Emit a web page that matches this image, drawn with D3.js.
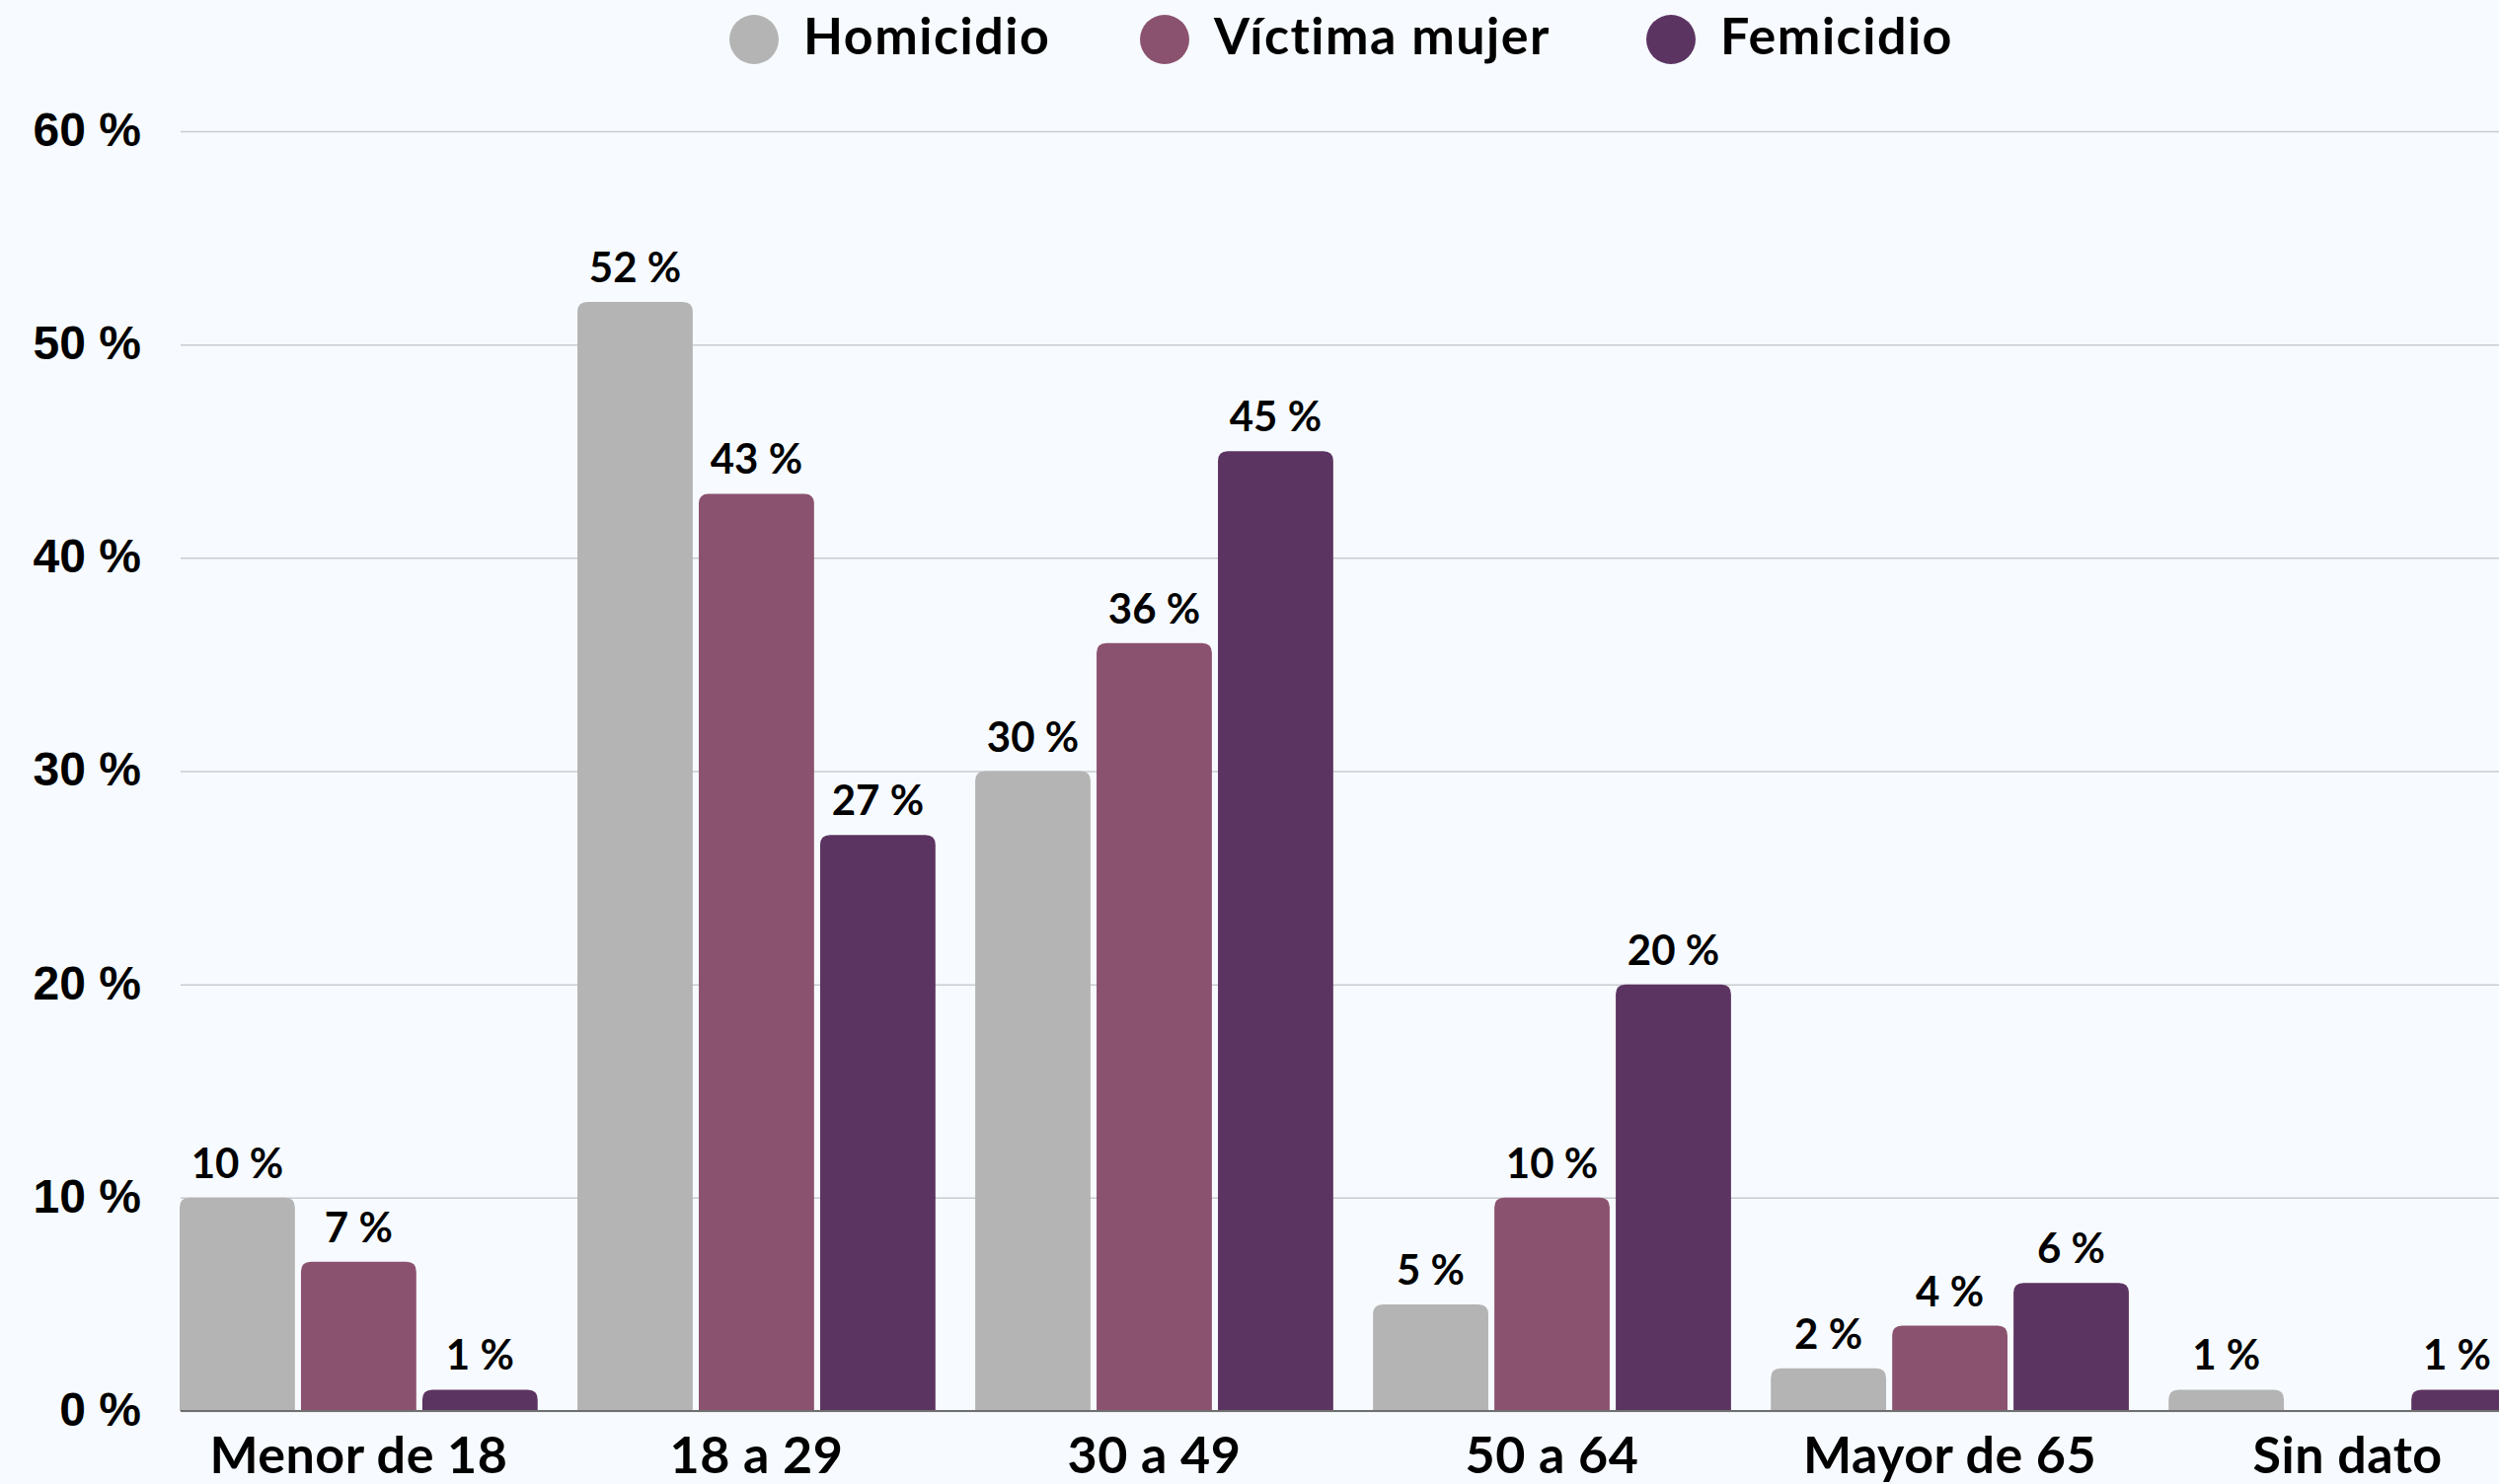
<!DOCTYPE html>
<html>
<head>
<meta charset="utf-8">
<script src="https://cdn.jsdelivr.net/npm/d3@7"></script>
<style>
  html, body { margin: 0; padding: 0; background: #f7fbff; overflow: hidden; }
  svg { display: block; font-family: Lato, "Open Sans", sans-serif; }
</style>
</head>
<body>
<svg id="chart" width="2532" height="1504"></svg>
<script>
// chart data
var categories = ["Menor de 18", "18 a 29", "30 a 49", "50 a 64", "Mayor de 65", "Sin dato"];
var seriesNames = ["Homicidio", "Víctima mujer", "Femicidio"];
var homicidio = [10, 52, 30, 5, 2, 1];
var victimaMujer = [7, 43, 36, 10, 4, 0];
var femicidio = [1, 27, 45, 20, 6, 1];
var yTicks = [0, 10, 20, 30, 40, 50, 60];
var colors = ["#b4b4b4", "#8b526f", "#5c3462"];

var seriesValues = [homicidio, victimaMujer, femicidio];

var svg = d3.select("#chart");
var width = 2532, height = 1504;

var y = d3.scaleLinear()
    .domain([0, 60])
    .range([1430, 133]);

// the chart runs past the right edge, like the original image
var x0 = d3.scaleBand()
    .domain(categories)
    .range([182, 2560])
    .paddingInner(0.1)
    .paddingOuter(0);

var x1 = d3.scaleBand()
    .domain(seriesNames)
    .range([0, x0.bandwidth()])
    .paddingInner(0.05);

// gridlines + y labels
var yAxis = d3.axisLeft(y)
    .tickValues(yTicks)
    .tickSize(-(width - 183))
    .tickPadding(40)
    .tickFormat(function (d) { return d + " %"; });

var gy = svg.append("g")
    .attr("transform", "translate(183,0)")
    .call(yAxis);
gy.select(".domain").remove();
gy.selectAll(".tick line")
    .attr("stroke", "#c9cbcf")
    .attr("stroke-width", 1.5);
gy.selectAll(".tick text")
    .attr("fill", "#000")
    .attr("font-size", 48)
    .attr("font-weight", 700)
    .attr("dy", "0.3em");

// bars with rounded tops
function barPath(x, yTop, w, h, r) {
    r = Math.min(r, h, w / 2);
    return "M" + x + "," + (yTop + h) +
        "V" + (yTop + r) +
        "Q" + x + "," + yTop + " " + (x + r) + "," + yTop +
        "H" + (x + w - r) +
        "Q" + (x + w) + "," + yTop + " " + (x + w) + "," + (yTop + r) +
        "V" + (yTop + h) + "Z";
}

var rows = [];
for (var i = 0; i < categories.length; i ++)
    for (var s = 0; s < seriesNames.length; s ++)
        rows.push({cat: categories[i], series: seriesNames[s], value: seriesValues[s][i], color: colors[s]});

var g = svg.append("g");

g.selectAll("path.bar")
    .data(rows.filter(function (d) { return d.value > 0; }))
    .enter()
    .append("path")
    .attr("class", "bar")
    .attr("fill", function (d) { return d.color; })
    .attr("d", function (d) {
        var bx = x0(d.cat) + x1(d.series);
        return barPath(bx, y(d.value), x1.bandwidth(), y(0) - y(d.value), 10);
    });

// baseline
svg.append("line")
    .attr("x1", 183).attr("x2", width)
    .attr("y1", y(0)).attr("y2", y(0))
    .attr("stroke", "#6f6f6f")
    .attr("stroke-width", 2);

// value labels (pulled back inside the right edge if needed)
g.selectAll("text.val")
    .data(rows.filter(function (d) { return d.value > 0; }))
    .enter()
    .append("text")
    .attr("class", "val")
    .attr("y", function (d) { return y(d.value) - 20; })
    .attr("text-anchor", "middle")
    .attr("font-size", 42)
    .attr("font-weight", 700)
    .attr("fill", "#000")
    .text(function (d) { return d.value + " %"; })
    .attr("x", function (d) {
        var cx = x0(d.cat) + x1(d.series) + x1.bandwidth() / 2;
        var half = this.getComputedTextLength() / 2;
        return Math.min(cx, width - 8 - half);
    });

// x labels
svg.append("g")
    .selectAll("text")
    .data(categories)
    .enter()
    .append("text")
    .attr("x", function (d) { return x0(d) + x0.bandwidth() / 2; })
    .attr("y", 1493)
    .attr("text-anchor", "middle")
    .attr("font-size", 52)
    .attr("font-weight", 700)
    .attr("letter-spacing", 0.5)
    .attr("fill", "#000")
    .text(function (d) { return d; });

// legend
var legendX = [764, 1180, 1693];
var legend = svg.append("g")
    .selectAll("g")
    .data(seriesNames)
    .enter()
    .append("g")
    .attr("transform", function (d, i) { return "translate(" + legendX[i] + ",40)"; });
legend.append("circle")
    .attr("r", 25)
    .attr("fill", function (d, i) { return colors[i]; });
legend.append("text")
    .attr("x", 50)
    .attr("y", 15)
    .attr("font-size", 52)
    .attr("font-weight", 700)
    .attr("letter-spacing", 1.5)
    .attr("fill", "#000")
    .text(function (d) { return d; });
</script>
</body>
</html>
